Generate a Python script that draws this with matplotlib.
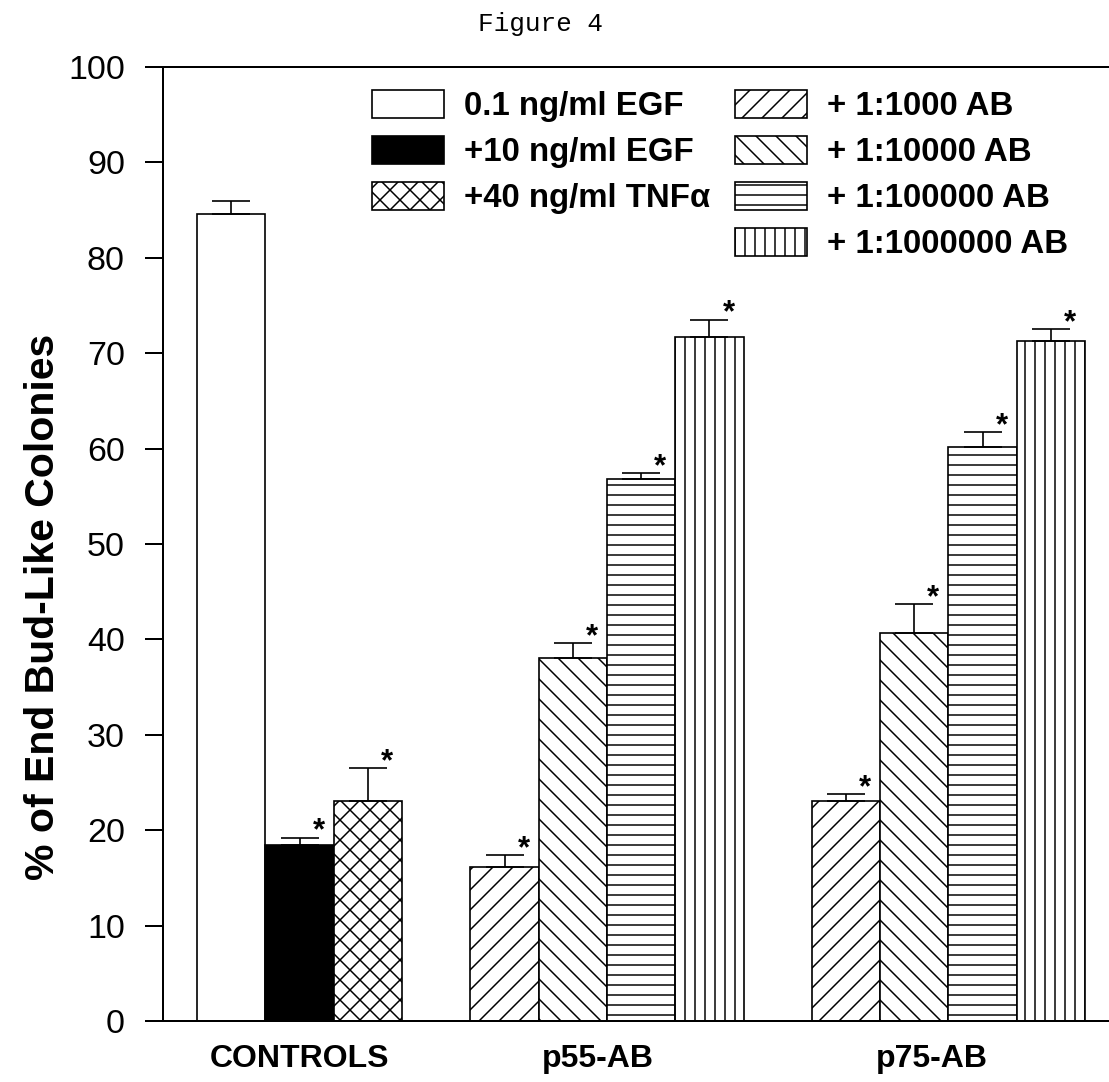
import matplotlib
matplotlib.use("Agg")
import matplotlib.pyplot as plt
from matplotlib import font_manager
from matplotlib.patches import Rectangle
import numpy as np

# ---------------- data ----------------
groups = ["CONTROLS", "p55-AB", "p75-AB"]
control_labels = ["0.1 ng/ml EGF", "+10 ng/ml EGF", "+40 ng/ml TNF\u03b1"]
ab_labels = ["+ 1:1000 AB", "+ 1:10000 AB", "+ 1:100000 AB", "+ 1:1000000 AB"]

controls = [84.6, 18.4, 23.1]
controls_err = [1.4, 0.8, 3.4]
p55 = [16.1, 38.1, 56.8, 71.7]
p55_err = [1.3, 1.5, 0.6, 1.8]
p75 = [23.1, 40.7, 60.2, 71.3]
p75_err = [0.7, 3.0, 1.5, 1.2]
controls_sig = [False, True, True]
p55_sig = [True, True, True, True]
p75_sig = [True, True, True, True]

yticks = [0, 10, 20, 30, 40, 50, 60, 70, 80, 90, 100]
ylabel = "% of End Bud-Like Colonies"
title = "Figure 4"

# ---------------- fonts ----------------
DPI = 120
def px2pt(px):
    return px * 72.0 / DPI

names = {f.name for f in font_manager.fontManager.ttflist}
if "Liberation Sans Narrow" in names:
    NARROW = "Liberation Sans Narrow"
    narrow_px = 38
    legend_px = 38
else:
    NARROW = "Liberation Sans"
    narrow_px = 32
    legend_px = 33
SANS = "Liberation Sans" if "Liberation Sans" in names else "DejaVu Sans"
MONO = "Liberation Mono" if "Liberation Mono" in names else "DejaVu Sans Mono"

plt.rcParams["hatch.linewidth"] = 0.9

W, H = 1109, 1082
fig = plt.figure(figsize=(W / DPI, H / DPI), dpi=DPI)
x0, x1 = 163, 1109
y0, y1 = 1021, 67
ax = fig.add_axes([x0 / W, 1 - y0 / H, (x1 - x0) / W, (y0 - y1) / H])

# positions: groups of bars separated by one empty slot
sizes = [len(controls), len(p55), len(p75)]
positions = []
start = 1
for s in sizes:
    positions.append(list(range(start, start + s)))
    start += s + 1

ctrl_styles = [dict(color="white", hatch=None),
               dict(color="black", hatch=None),
               dict(color="white", hatch="xx")]
ab_hatches = ["//", "\\\\", "--", "||"]

lw = 1.0
handles_ctrl = []
for i, (xv, v) in enumerate(zip(positions[0], controls)):
    st = ctrl_styles[i]
    b = ax.bar(xv, v, width=1.0, color=st["color"], edgecolor="black",
               linewidth=lw, hatch=st["hatch"], zorder=2)
    handles_ctrl.append(b)

handles_ab = []
for gi, vals in enumerate([p55, p75]):
    for i, (xv, v) in enumerate(zip(positions[gi + 1], vals)):
        b = ax.bar(xv, v, width=1.0, color="white", edgecolor="black",
                   linewidth=lw, hatch=ab_hatches[i], zorder=2)
        if gi == 0:
            handles_ab.append(b)

all_x = positions[0] + positions[1] + positions[2]
all_v = controls + p55 + p75
all_e = controls_err + p55_err + p75_err
all_sig = controls_sig + p55_sig + p75_sig
ax.errorbar(all_x, all_v, yerr=[np.zeros(len(all_e)), all_e], fmt="none",
            ecolor="black", elinewidth=1.0, capsize=px2pt(19), capthick=1.0,
            zorder=3)

for xv, v, e, s in zip(all_x, all_v, all_e, all_sig):
    if s:
        ax.text(xv + 0.28, v + e - 0.2, "*", ha="center", va="baseline",
                fontsize=px2pt(31), fontweight="bold", family=SANS, zorder=4)

# axes styling
ax.set_xlim(0, (x1 - x0) / 68.3)
ax.set_ylim(0, 100)
ax.set_yticks(yticks)
ax.set_yticklabels([str(t) for t in yticks], family=SANS, fontsize=px2pt(34))
ax.tick_params(axis="y", direction="out", length=px2pt(18), width=1.2,
               pad=px2pt(20))
ax.set_xticks([2.0, 6.37, 11.26])
ax.set_xticklabels(groups, family=NARROW, fontweight="bold",
                   fontsize=px2pt(narrow_px))
ax.tick_params(axis="x", length=0, pad=px2pt(23))
for sp in ["left", "bottom", "top"]:
    ax.spines[sp].set_linewidth(1.2)
ax.spines["right"].set_visible(False)

ax.set_ylabel(ylabel, family=SANS, fontweight="bold", fontsize=px2pt(41))
ax.yaxis.set_label_coords((62 - x0) / (x1 - x0), (y0 - 607) / (y0 - y1))

# legend: 3 controls in first column, blank, then 4 AB entries
blank = Rectangle((0, 0), 1, 1, fill=False, edgecolor="none", linewidth=0)
handles = [h.patches[0] for h in handles_ctrl] + [blank] + \
          [h.patches[0] for h in handles_ab]
labels = control_labels + [""] + ab_labels
leg = ax.legend(handles, labels, ncol=2, loc="upper left",
                bbox_to_anchor=((372 - x0) / (x1 - x0), (y0 - 90) / (y0 - y1)),
                frameon=False, borderpad=0, borderaxespad=0,
                handlelength=72 / legend_px, handleheight=30 / legend_px,
                handletextpad=20 / legend_px,
                labelspacing=0.42, columnspacing=25 / legend_px,
                prop=dict(family=NARROW, weight="bold", size=px2pt(legend_px)))

fig.text(541 / W, 1 - 24 / H, title, family=MONO, fontsize=px2pt(26),
         ha="center", va="center")

fig.savefig("out.png", dpi=DPI)
